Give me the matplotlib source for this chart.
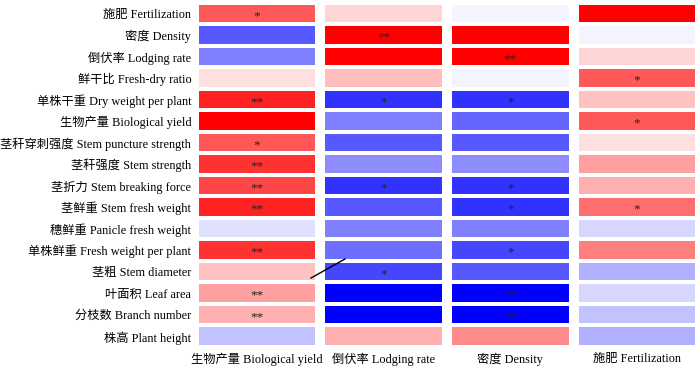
import matplotlib
matplotlib.use("Agg")
import matplotlib.pyplot as plt
import numpy as np

plt.rcParams['font.family'] = ['Liberation Serif', 'Noto Sans CJK SC']

rows = ["施肥 Fertilization", "密度 Density", "倒伏率 Lodging rate", "鲜干比 Fresh-dry ratio",
        "单株干重 Dry weight per plant", "生物产量 Biological yield", "茎秆穿刺强度 Stem puncture strength",
        "茎秆强度 Stem strength", "茎折力 Stem breaking force", "茎鲜重 Stem fresh weight",
        "穗鲜重 Panicle fresh weight", "单株鲜重 Fresh weight per plant", "茎粗 Stem diameter",
        "叶面积 Leaf area", "分枝数 Branch number", "株高 Plant height"]
cols = ["生物产量 Biological yield", "倒伏率 Lodging rate", "密度 Density", "施肥 Fertilization"]

# correlation values per column (top to bottom)
yield_r = [0.65, -0.65, -0.5, 0.12, 0.86, 1.0, 0.65, 0.8, 0.72, 0.86, -0.12, 0.8, 0.24, 0.37, 0.31, -0.24]
lodging_r = [0.16, 1.0, 1.0, 0.25, -0.8, -0.5, -0.65, -0.45, -0.8, -0.65, -0.5, -0.57, -0.72, -1.0, -1.0, 0.31]
density_r = [-0.04, 1.0, 1.0, -0.04, -0.8, -0.6, -0.65, -0.45, -0.8, -0.8, -0.5, -0.72, -0.65, -1.0, -1.0, 0.45]
fert_r = [1.0, -0.04, 0.16, 0.65, 0.24, 0.65, 0.12, 0.37, 0.31, 0.57, -0.16, 0.5, -0.31, -0.16, -0.24, -0.31]

yield_sig = ["*", "", "", "", "**", "", "*", "**", "**", "**", "", "**", "", "**", "**", ""]
lodging_sig = ["", "**", "", "", "*", "", "", "", "*", "", "", "", "*", "", "", ""]
density_sig = ["", "", "**", "", "*", "", "", "", "*", "*", "", "*", "", "**", "**", ""]
fert_sig = ["", "", "", "*", "", "*", "", "", "", "*", "", "", "", "", "", ""]

values = [yield_r, lodging_r, density_r, fert_r]
sigs = [yield_sig, lodging_sig, density_sig, fert_sig]

fig, axes = plt.subplots(1, 4, figsize=(7, 3.68), dpi=100)
fig.subplots_adjust(left=0.281, right=0.996, top=0.993, bottom=0.057, wspace=0.05)

n = len(rows)
for k, ax in enumerate(axes):
    data = np.array(values[k]).reshape(-1, 1)
    ax.pcolormesh(data, cmap='bwr', vmin=-1, vmax=1, edgecolors='white', linewidth=1.5)
    ax.set_ylim(n, 0)
    ax.set_xlim(0, 1)
    for i, s in enumerate(sigs[k]):
        if s:
            ax.text(0.5, i + 0.62, s, ha='center', va='center', fontsize=9.5, color='#222222')
    ax.set_xticks([0.5])
    ax.set_xticklabels([cols[k]], fontsize=8.8)
    if k == 0:
        ax.set_yticks(np.arange(n) + 0.5)
        ax.set_yticklabels(rows, fontsize=8.8)
    else:
        ax.set_yticks([])
    ax.tick_params(length=0, pad=4)
    for sp in ax.spines.values():
        sp.set_visible(False)

# stray stroke present in the original figure
fig.add_artist(plt.Line2D([311 / 700, 345 / 700], [1 - 278 / 368, 1 - 259 / 368],
                          color='black', linewidth=1, transform=fig.transFigure))

fig.savefig("out.png", dpi=100)
